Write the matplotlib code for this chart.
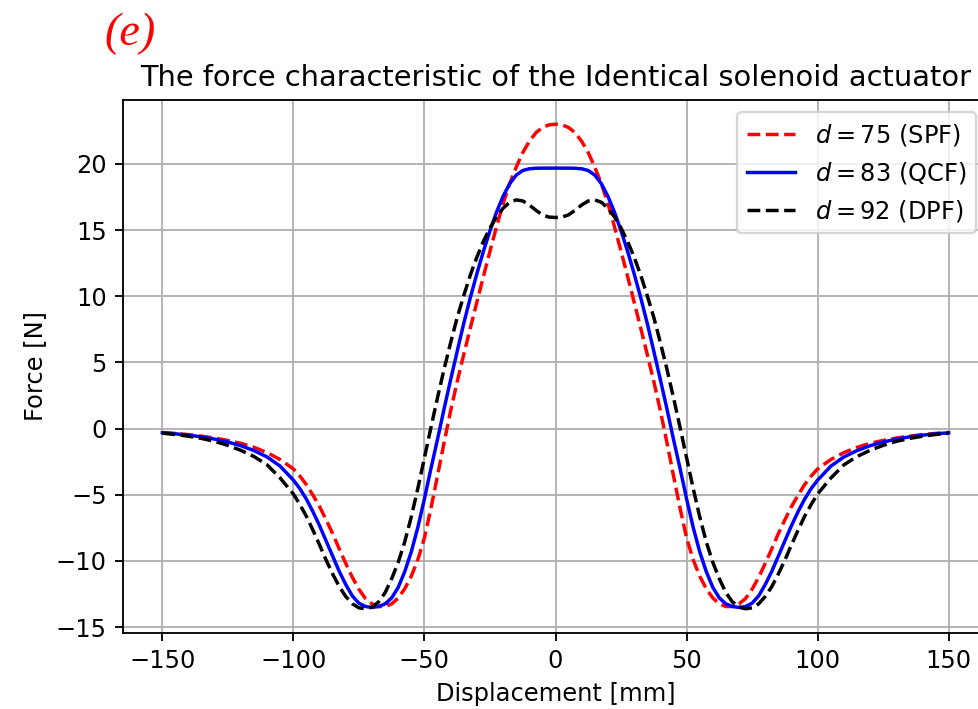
import numpy as np
import matplotlib
matplotlib.use("Agg")
import matplotlib.pyplot as plt

# displacement in mm
displacement = [-150, -145, -140, -135, -130, -125, -120, -115, -110, -105,
                -100, -97.5, -95, -92.5, -90, -87.5, -85, -82.5, -80, -77.5,
                -75, -72.5, -70, -67.5, -65, -62.5, -60, -57.5, -55, -52.5,
                -50, -47.5, -45, -42.5, -40, -37.5, -35, -32.5, -30, -27.5,
                -25, -22.5, -20, -17.5, -15, -12.5, -10, -7.5, -5, -2.5,
                0,
                2.5, 5, 7.5, 10, 12.5, 15, 17.5, 20, 22.5, 25,
                27.5, 30, 32.5, 35, 37.5, 40, 42.5, 45, 47.5, 50,
                52.5, 55, 57.5, 60, 62.5, 65, 67.5, 70, 72.5, 75,
                77.5, 80, 82.5, 85, 87.5, 90, 92.5, 95, 97.5, 100,
                105, 110, 115, 120, 125, 130, 135, 140, 145, 150]

# force [N]
force_spf = [-0.30, -0.37, -0.46, -0.58, -0.72, -0.90, -1.12, -1.42, -1.82, -2.35,
             -3.05, -3.60, -4.25, -5.05, -5.90, -6.90, -7.95, -9.10, -10.20, -11.25,
             -12.15, -12.85, -13.25, -13.45, -13.45, -13.25, -12.80, -12.10, -11.15, -9.90,
             -8.25, -6.00, -3.55, -1.05, 1.35, 3.55, 5.60, 7.60, 9.55, 11.50,
             13.40, 15.25, 17.00, 18.50, 19.75, 20.85, 21.70, 22.35, 22.75, 22.95,
             23.00,
             22.95, 22.75, 22.35, 21.70, 20.85, 19.75, 18.50, 17.00, 15.25, 13.40,
             11.50, 9.55, 7.60, 5.60, 3.55, 1.35, -1.05, -3.55, -6.00, -8.25,
             -9.90, -11.15, -12.10, -12.80, -13.25, -13.45, -13.45, -13.25, -12.85, -12.15,
             -11.25, -10.20, -9.10, -7.95, -6.90, -5.90, -5.05, -4.25, -3.60, -3.05,
             -2.35, -1.82, -1.42, -1.12, -0.90, -0.72, -0.58, -0.46, -0.37, -0.30]

force_qcf = [-0.32, -0.40, -0.50, -0.63, -0.80, -1.02, -1.30, -1.67, -2.15, -2.85,
             -3.90, -4.55, -5.35, -6.30, -7.35, -8.50, -9.65, -10.80, -11.80, -12.65,
             -13.20, -13.45, -13.52, -13.45, -13.25, -12.80, -12.00, -10.80, -9.30, -7.45,
             -5.30, -3.00, -0.80, 1.50, 3.70, 5.85, 7.95, 9.90, 11.70, 13.40,
             14.95, 16.35, 17.55, 18.50, 19.15, 19.50, 19.63, 19.67, 19.68, 19.68,
             19.68,
             19.68, 19.68, 19.67, 19.63, 19.50, 19.15, 18.50, 17.55, 16.35, 14.95,
             13.40, 11.70, 9.90, 7.95, 5.85, 3.70, 1.50, -0.80, -3.00, -5.30,
             -7.45, -9.30, -10.80, -12.00, -12.80, -13.25, -13.45, -13.52, -13.45, -13.20,
             -12.65, -11.80, -10.80, -9.65, -8.50, -7.35, -6.30, -5.35, -4.55, -3.90,
             -2.85, -2.15, -1.67, -1.30, -1.02, -0.80, -0.63, -0.50, -0.40, -0.32]

force_dpf = [-0.35, -0.45, -0.58, -0.75, -0.97, -1.27, -1.65, -2.12, -2.75, -3.75,
             -4.95, -5.75, -6.65, -7.70, -8.80, -9.95, -11.00, -11.95, -12.70, -13.25,
             -13.55, -13.62, -13.50, -13.10, -12.40, -11.35, -10.10, -8.55, -6.65, -4.50,
             -2.20, 0.10, 2.35, 4.50, 6.50, 8.40, 10.05, 11.60, 12.95, 14.15,
             15.15, 16.00, 16.65, 17.10, 17.28, 17.20, 16.90, 16.50, 16.15, 15.98,
             15.95,
             15.98, 16.15, 16.50, 16.90, 17.20, 17.28, 17.10, 16.65, 16.00, 15.15,
             14.15, 12.95, 11.60, 10.05, 8.40, 6.50, 4.50, 2.35, 0.10, -2.20,
             -4.50, -6.65, -8.55, -10.10, -11.35, -12.40, -13.10, -13.50, -13.62, -13.55,
             -13.25, -12.70, -11.95, -11.00, -9.95, -8.80, -7.70, -6.65, -5.75, -4.95,
             -3.75, -2.75, -2.12, -1.65, -1.27, -0.97, -0.75, -0.58, -0.45, -0.35]

plt.rcParams['font.size'] = 10.45

DPI = 166
fig = plt.figure(figsize=(978 / DPI, 709 / DPI), dpi=DPI)
ax = fig.add_axes([0.1258, 0.1072, 0.8844, 0.7518])

ax.plot(displacement, force_spf, 'r--', label='$d = 75$ (SPF)')
ax.plot(displacement, force_qcf, 'b-', label='$d = 83$ (QCF)')
ax.plot(displacement, force_dpf, 'k--', label='$d = 92$ (DPF)')

ax.set_xlabel('Displacement [mm]')
ax.set_ylabel('Force [N]')
ax.set_title('The force characteristic of the Identical solenoid actuator')
ax.set_xticks([-150, -100, -50, 0, 50, 100, 150])
ax.grid(True)
ax.legend(loc='upper right')

fig.text(0.107, 0.952, '(e)', color='red', fontsize=20, style='italic',
         family='Liberation Serif', ha='left', va='center')

fig.savefig('out.png', dpi=DPI)
